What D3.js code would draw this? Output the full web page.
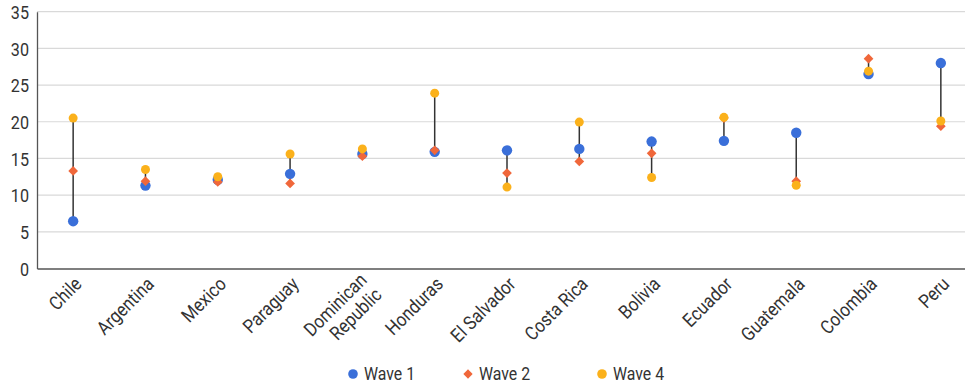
<!DOCTYPE html>
<html><head><meta charset="utf-8">
<script src="https://cdn.jsdelivr.net/npm/d3@7"></script>
<style>
body{margin:0;background:#fff;}
svg{display:block;font-family:"Roboto","Liberation Sans",sans-serif;}
</style></head><body>
<svg id="c" width="965" height="383"></svg>
<script>
const categories = ["Chile","Argentina","Mexico","Paraguay","Dominican Republic","Honduras","El Salvador","Costa Rica","Bolivia","Ecuador","Guatemala","Colombia","Peru"];
const wave1 = [6.45,11.3,12.1,12.9,15.6,15.9,16.1,16.3,17.3,17.4,18.5,26.5,28.0];
const wave2 = [13.3,11.9,11.8,11.6,15.3,16.1,13.0,14.6,15.7,20.5,11.9,28.6,19.4];
const wave4 = [20.5,13.5,12.5,15.6,16.3,23.9,11.1,19.95,12.4,20.6,11.35,26.9,20.1];
const yTicks = [0,5,10,15,20,25,30,35];
const seriesNames = ["Wave 1","Wave 2","Wave 4"];
const colors = ["#3a6fd9","#f0673a","#fbb11b"];

(function(){
const SX = 0.88; // condensed look
const svg = d3.select("#c");
const mLeft = 37, mRight = 977, mTop = 11.7, mBottom = 268.5;
const x = d3.scaleBand().domain(categories).range([mLeft, mRight]);
const y = d3.scaleLinear().domain([0,35]).range([mBottom, mTop]);

// gridlines
svg.append("g").selectAll("line").data(yTicks.filter(t=>t>0)).join("line")
  .attr("x1", mLeft).attr("x2", 965).attr("y1", d=>y(d)).attr("y2", d=>y(d))
  .attr("stroke", "#d9d9d9").attr("stroke-width", 1.2);

// y axis
const yAxis = d3.axisLeft(y).tickValues(yTicks).tickSize(0).tickPadding(0);
const gy = svg.append("g").attr("transform", `translate(${mLeft},0)`).call(yAxis);
gy.select(".domain").attr("stroke", "#555").attr("stroke-width", 1.3);
gy.selectAll(".tick text").attr("font-size", 19).attr("fill", "#333")
  .attr("font-family", "Roboto, sans-serif")
  .attr("x", null).attr("dy", "0.36em")
  .attr("transform", `translate(-8,0) scale(0.85,1)`);

// x axis
const xAxis = d3.axisBottom(x).tickSize(0).tickFormat("");
const gx = svg.append("g").attr("transform", `translate(0,${mBottom})`).call(xAxis);
gx.select(".domain").attr("stroke", "#555").attr("stroke-width", 1.5);

// category labels
const lbl = svg.append("g");
const lh = 1.1;
categories.forEach(c => {
  const cx = x(c) + x.bandwidth()/2;
  const lines = c === "Dominican Republic" ? ["Dominican","Republic"] : [c];
  const t = lbl.append("text")
    .attr("transform", `translate(${cx+5},${mBottom+12}) rotate(-45) scale(${SX},1)`)
    .attr("text-anchor", "end").attr("font-size", 19).attr("fill", "#333");
  const off = -(lines.length-1)*0.3;
  lines.forEach((l,i) => t.append("tspan").attr("x", 0)
    .attr("dy", i===0 ? (0.35+off)+"em" : lh+"em").text(l));
});

// connecting lines
const data = categories.map((c,i)=>({c, v:[wave1[i],wave2[i],wave4[i]]}));
const cxOf = c => x(c)+x.bandwidth()/2;
svg.append("g").selectAll("line").data(data).join("line")
  .attr("x1", d=>cxOf(d.c)).attr("x2", d=>cxOf(d.c))
  .attr("y1", d=>y(d3.min(d.v))).attr("y2", d=>y(d3.max(d.v)))
  .attr("stroke", "#333").attr("stroke-width", 1.5);

// wave1
svg.append("g").selectAll("circle").data(categories).join("circle")
  .attr("cx", cxOf).attr("cy", (d,i)=>y(wave1[i])).attr("r", 5.2).attr("fill", colors[0]);
// wave2 diamonds
const diamond = d3.symbol().type(d3.symbolDiamond2).size(60);
svg.append("g").selectAll("path").data(categories).join("path")
  .attr("d", diamond).attr("transform", (d,i)=>`translate(${cxOf(d)},${y(wave2[i])})`).attr("fill", colors[1]);
// wave4
svg.append("g").selectAll("circle").data(categories).join("circle")
  .attr("cx", cxOf).attr("cy", (d,i)=>y(wave4[i])).attr("r", 4.5).attr("fill", colors[2]);

// legend
const lg = svg.append("g");
const legX = [353, 468, 602];
seriesNames.forEach((s,i)=>{
  const lx = legX[i], ly = 374;
  if (i===1) lg.append("path").attr("d", d3.symbol().type(d3.symbolDiamond2).size(55)).attr("transform",`translate(${lx},${ly})`).attr("fill", colors[i]);
  else lg.append("circle").attr("cx", lx).attr("cy", ly).attr("r", 4.8).attr("fill", colors[i]);
  lg.append("text").attr("transform", `translate(${lx+11},${ly+5.5}) scale(0.88,1)`)
    .attr("font-size", 18).attr("fill", "#333").text(s);
});
})();
</script></body></html>
